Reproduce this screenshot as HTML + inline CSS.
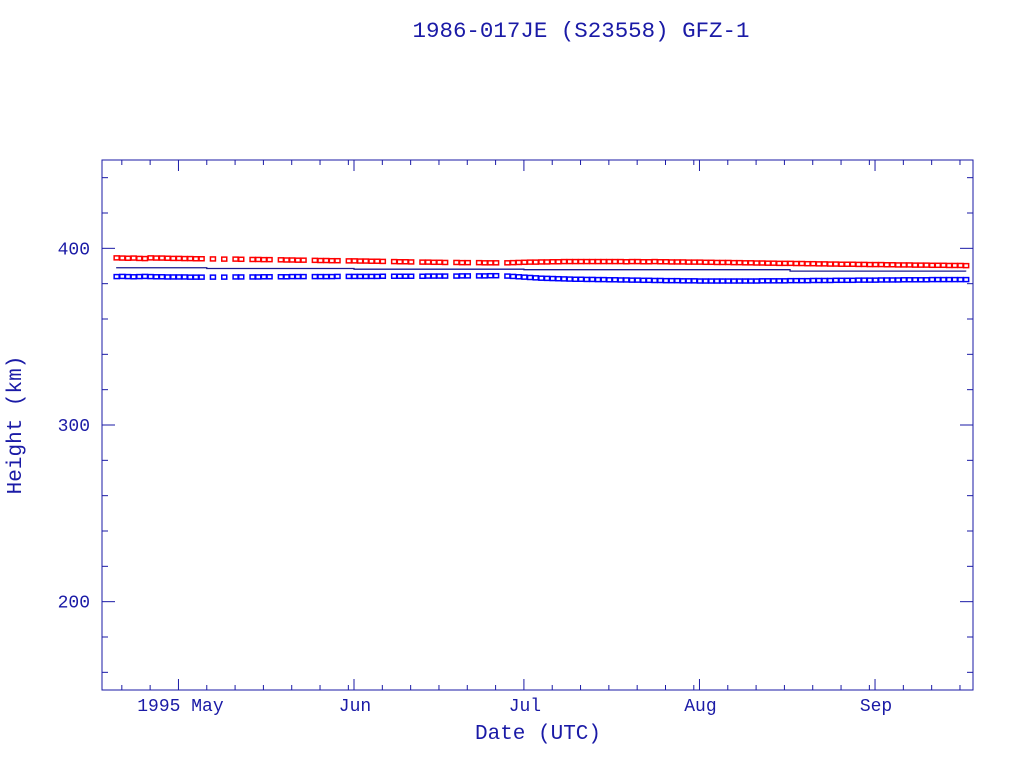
<!DOCTYPE html>
<html><head><meta charset="utf-8"><style>
body{margin:0;background:#fff;width:1024px;height:768px;overflow:hidden}
svg text{font-family:"Liberation Mono",monospace;fill:#1a1aa6}
</style></head><body>
<svg id="chart" width="1024" height="768" xmlns="http://www.w3.org/2000/svg">
<text x="581" y="37" font-size="22" text-anchor="middle" textLength="337" lengthAdjust="spacingAndGlyphs">1986-017JE (S23558) GFZ-1</text>
<text x="538" y="739" font-size="21" text-anchor="middle">Date (UTC)</text>
<text x="21" y="425" font-size="21" text-anchor="middle" transform="rotate(-90 21 425)">Height (km)</text>
<rect x="102" y="160" width="871" height="530" fill="none" stroke="#1a1aa6" stroke-width="1"/>
<g id="ticks"></g><g id="marks"></g>
</svg>
<script>
const days=[-11,-10,-9,-8,-7,-6,-5,-4,-3,-2,-1,0,1,2,3,4,6,8,10,11,13,14,15,16,18,19,20,21,22,24,25,26,27,28,30,31,32,33,34,35,36,38,39,40,41,43,44,45,46,47,49,50,51,53,54,55,56];
for(let d=58;d<=139;d++)days.push(d);
const apogee=[394.6,394.5,394.4,394.5,394.3,394.2,394.6,394.5,394.5,394.4,394.3,394.3,394.2,394.2,394.1,394.1,
394.0,393.9,393.9,393.8,393.7,393.7,393.6,393.6,393.5,393.4,393.4,393.3,393.3,393.2,393.1,393.1,393.0,393.0,
392.9,392.9,392.8,392.8,392.7,392.7,392.6,392.5,392.4,392.4,392.3,392.2,392.2,392.1,392.1,392.0,392.0,391.9,391.9,
391.9,391.8,391.8,391.8,
391.8,391.9,392.0,392.1,392.2,392.2,392.3,392.3,392.4,392.4,
392.5,392.5,392.5,392.5,392.5,392.5,392.5,392.5,392.5,392.5,
392.5,392.4,392.5,392.5,392.4,392.4,392.5,392.4,392.4,392.3,
392.3,392.3,392.2,392.2,392.2,392.1,392.1,392.0,392.0,392.0,
391.9,391.9,391.8,391.8,391.7,391.7,391.6,391.6,391.5,391.5,
391.5,391.4,391.4,391.3,391.3,391.2,391.2,391.1,391.1,391.0,
391.0,391.0,390.9,390.9,390.8,390.8,390.8,390.7,390.7,390.6,
390.6,390.6,390.5,390.5,390.5,390.4,390.4,390.4,390.3,390.3,390.3,390.2];
const perigee=[384.0,384.1,384.0,383.9,384.0,384.1,384.0,383.9,383.9,383.8,383.8,383.8,383.8,383.7,383.7,383.7,
383.7,383.7,383.8,383.8,383.8,383.8,383.9,383.9,383.9,383.9,384.0,384.0,384.0,384.0,384.0,384.0,384.0,384.1,
384.1,384.1,384.1,384.1,384.1,384.1,384.2,384.2,384.2,384.2,384.2,384.2,384.3,384.3,384.3,384.3,384.3,384.4,384.4,
384.4,384.4,384.5,384.5,
384.3,384.1,383.9,383.7,383.5,383.3,383.1,383.0,382.9,382.8,
382.7,382.6,382.5,382.5,382.4,382.4,382.3,382.3,382.2,382.2,
382.1,382.1,382.0,382.0,381.9,381.9,381.8,381.8,381.7,381.7,
381.7,381.6,381.6,381.6,381.5,381.5,381.5,381.5,381.5,381.5,
381.5,381.5,381.5,381.5,381.5,381.6,381.6,381.6,381.6,381.6,
381.7,381.7,381.7,381.7,381.8,381.8,381.8,381.8,381.9,381.9,
381.9,381.9,382.0,382.0,382.0,382.0,382.1,382.1,382.1,382.1,
382.2,382.2,382.2,382.2,382.2,382.3,382.3,382.3,382.3,382.3,382.3,382.3];
const meanDays=[-11,5,31,61,108,139];
const meanVals=[389.0,388.6,388.2,387.9,387.1,386.8];
const yTicks=[200,300,400];
const monthStarts=[0,31,61,92,123];
const monthLabels=["1995 May","Jun","Jul","Aug","Sep"];

const NS="http://www.w3.org/2000/svg";
const X0=102,X1=973,Y0=160,Y1=690,DMIN=-13.5,DMAX=140.3,VMIN=150,VMAX=450;
const xs=d=>X0+(d-DMIN)/(DMAX-DMIN)*(X1-X0);
const ys=v=>Y1-(v-VMIN)/(VMAX-VMIN)*(Y1-Y0);
const C="#1a1aa6";
function mk(tag,attrs,parent){const e=document.createElementNS(NS,tag);for(const k in attrs)e.setAttribute(k,attrs[k]);parent.appendChild(e);return e;}
const tg=document.getElementById('ticks'),mg=document.getElementById('marks');
for(let v=160;v<=440;v+=20){const y=ys(v);const major=v%100===0;const L=major?13:6;
 const t1=mk('line',{x1:X0,x2:X0+L,y1:y,y2:y,stroke:C},tg);
 const t2=mk('line',{x1:X1-L,x2:X1,y1:y,y2:y,stroke:C},tg);}
yTicks.forEach(v=>{const t=mk('text',{x:X0-12,y:ys(v)+6,'font-size':18,'text-anchor':'end'},tg);t.textContent=v;
 });
const lens=[31,30,31,31,30];
for(let m=-1;m<5;m++){const s=m<0?-30:monthStarts[m];const len=m<0?30:lens[m];
 for(let o=0;o<len;o+=5){if(o===0&&m<0)continue;const d=s+o;if(d<DMIN||d>DMAX)continue;const x=xs(d);const L=o===0?11:5;
  const a=mk('line',{x1:x,x2:x,y1:Y1,y2:Y1-L,stroke:C},tg);
  const b=mk('line',{x1:x,x2:x,y1:Y0,y2:Y0+L,stroke:C},tg);}}
monthStarts.forEach((d,i)=>{const t=mk('text',{x:xs(d)+(i===0?2:1),y:711,'font-size':18,'text-anchor':'middle'},tg);t.textContent=monthLabels[i];
 });
let pts=[];meanDays.forEach((d,i)=>{if(i>0)pts.push(xs(d)+','+ys(meanVals[i-1]));pts.push(xs(d)+','+ys(meanVals[i]));});
const ml=mk('polyline',{points:pts.join(' '),fill:'none',stroke:'#1a1a90','stroke-width':1.3},mg);

days.forEach((d,i)=>{
 const a=mk('rect',{x:xs(d)-2,y:ys(apogee[i])-2,width:5,height:4,fill:'none',stroke:'#f00','stroke-width':1.5},mg);
 
 const p=mk('rect',{x:xs(d)-2,y:ys(perigee[i])-2,width:5,height:4,fill:'none',stroke:'#00f','stroke-width':1.5},mg);
 
});
</script>
</body></html>
